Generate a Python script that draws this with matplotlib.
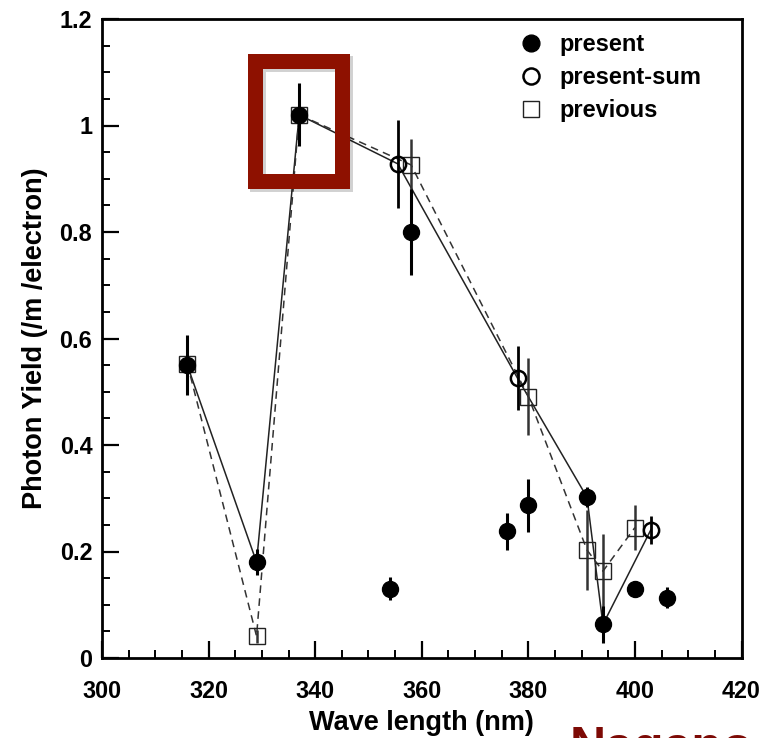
import matplotlib
matplotlib.use("Agg")
import matplotlib.pyplot as plt
from matplotlib.patches import Rectangle
from matplotlib.ticker import MultipleLocator

plt.rcParams['font.family'] = ['Liberation Sans', 'DejaVu Sans']
plt.rcParams['font.weight'] = 'bold'

# ---- data ----
present_x = [316, 329, 337, 354, 358, 376, 380, 391, 394, 400, 406]
present_y = [0.55, 0.18, 1.02, 0.13, 0.80, 0.238, 0.287, 0.302, 0.063, 0.129, 0.113]
present_err = [0.057, 0.025, 0.059, 0.022, 0.08, 0.035, 0.05, 0.019, 0.034, 0.015, 0.02]

sum_x = [355.5, 378, 403]
sum_y = [0.928, 0.525, 0.241]
sum_err = [0.082, 0.06, 0.026]

prev_x = [316, 329, 337, 358, 380, 391, 394, 400]
prev_y = [0.553, 0.041, 1.02, 0.926, 0.491, 0.203, 0.163, 0.245]
prev_err = [0.0, 0.012, 0.0, 0.049, 0.072, 0.075, 0.07, 0.042]

line_x = [316, 329, 337, 355.5, 378, 391, 394, 403]
line_y = [0.55, 0.18, 1.02, 0.928, 0.525, 0.302, 0.063, 0.241]

labels = ["present", "present-sum", "previous"]

W, H = 765, 738
fig = plt.figure(figsize=(W / 100, H / 100), dpi=100)
ax = fig.add_axes([102 / W, 1 - 658 / H, (741.5 - 102) / W, (658 - 19) / H])

# connecting lines
ax.plot(line_x, line_y, color='#222222', lw=1.1, zorder=2)
ax.plot(prev_x, prev_y, color='#333333', lw=1.1, ls=(0, (5, 3.5)), zorder=2)

# previous (open squares)
ax.errorbar(prev_x, prev_y, yerr=prev_err, fmt='s', ms=11, mfc='none', mec='#222222',
            mew=1.0, ecolor='#333333', elinewidth=1.8, capsize=0, zorder=3, label=labels[2])
# present-sum (open circles)
ax.errorbar(sum_x, sum_y, yerr=sum_err, fmt='o', ms=11, mfc='none', mec='black',
            mew=1.8, ecolor='black', elinewidth=2.0, capsize=0, zorder=4, label=labels[1])
# present (filled circles)
ax.errorbar(present_x, present_y, yerr=present_err, fmt='o', ms=11.5, mfc='black', mec='black',
            ecolor='black', elinewidth=2.2, capsize=0, zorder=5, label=labels[0])

ax.set_xlim(300, 420)
ax.set_ylim(0, 1.2)
ax.xaxis.set_major_locator(MultipleLocator(20))
ax.xaxis.set_minor_locator(MultipleLocator(5))
ax.yaxis.set_minor_locator(MultipleLocator(0.05))
ax.set_yticks([0, 0.2, 0.4, 0.6, 0.8, 1.0, 1.2])
ax.set_yticklabels(["0", "0.2", "0.4", "0.6", "0.8", "1", "1.2"])

ax.tick_params(which='major', direction='in', length=12, width=1.6, labelsize=16.8)
ax.tick_params(which='minor', direction='in', length=6, width=1.4)
ax.tick_params(axis='x', which='major', pad=16)
ax.tick_params(axis='y', which='major', pad=7)
ax.tick_params(top=False, right=False, which='both')
for s in ax.spines.values():
    s.set_linewidth(2.0)
for t in ax.get_xticklabels() + ax.get_yticklabels():
    t.set_fontweight('bold')

ax.set_xlabel("Wave length (nm)", fontsize=19.5, fontweight='bold', labelpad=5)
ax.set_ylabel("Photon Yield (/m /electron)", fontsize=19.5, fontweight='bold', labelpad=8)

h, l = ax.get_legend_handles_labels()
order = [l.index(x) for x in labels]
leg = ax.legend([h[i][0] for i in order], [l[i] for i in order],
                loc='upper left', bbox_to_anchor=(517 / W, 1 - 33 / H),
                bbox_transform=fig.transFigure, frameon=False, fontsize=17,
                handlelength=1.2, handletextpad=0.6, labelspacing=0.42,
                borderpad=0, borderaxespad=0, markerscale=1.05)
for t in leg.get_texts():
    t.set_fontweight('bold')

# red highlight box (slide annotation) with soft shadow
shadow = Rectangle((258 / W, 1 - 184 / H), (342.5 - 255.5) / W, (181 - 61.5) / H,
                   transform=fig.transFigure, fill=False, ec='black', alpha=0.18,
                   lw=11.5, joinstyle='miter', zorder=9)
fig.patches.append(shadow)
rect = Rectangle((255.5 / W, 1 - 181 / H), (342.5 - 255.5) / W, (181 - 61.5) / H,
                 transform=fig.transFigure, fill=False, ec='#8E1100', lw=10.8,
                 joinstyle='miter', zorder=10)
fig.patches.append(rect)

# partially visible slide title text at bottom (clipped in the reference too)
fig.text(570 / W, -0.0325, "Nagano", color='#7D0A05', fontsize=36, fontweight='bold',
         va='baseline', ha='left')

fig.savefig("out.png", dpi=100)
